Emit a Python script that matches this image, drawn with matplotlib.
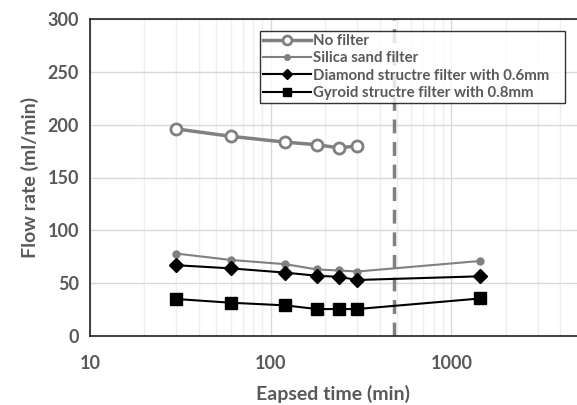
import matplotlib
matplotlib.use("Agg")
import matplotlib.pyplot as plt
from matplotlib.ticker import LogLocator, NullFormatter, FixedLocator

plt.rcParams['font.family'] = ['Lato', 'DejaVu Sans']

# elapsed time (min)
time = [30, 60, 120, 180, 240, 300, 1440]
no_filter = [196, 189, 183.5, 181, 178, 180]
silica = [78, 72, 68, 63, 62, 61, 71]
diamond = [67, 64, 60, 57, 56, 53, 56.5]
gyroid = [35, 31.5, 29, 25.5, 25.5, 25.5, 35.5]
cutoff = 480
labels = ['No filter', 'Silica sand filter',
          'Diamond structre filter with 0.6mm',
          'Gyroid structre filter with 0.8mm']

grey = '#808080'
text_col = '#595959'

fig = plt.figure(figsize=(5.77, 4.05), dpi=100)
ax = fig.add_axes([90 / 577, 1 - 336 / 405, 1 - 90 / 577, 317 / 405])

ax.plot(time[:len(no_filter)], no_filter, '-o', color=grey, lw=2.5,
        ms=8, mfc='white', mew=2, label=labels[0], zorder=3)
ax.plot(time, silica, '-o', color=grey, lw=1.5, ms=5, label=labels[1], zorder=3)
ax.plot(time, diamond, '-D', color='black', lw=1.5, ms=7, label=labels[2], zorder=3)
ax.plot(time, gyroid, '-s', color='black', lw=1.5, ms=8, label=labels[3], zorder=3)
ax.axvline(cutoff, color=grey, lw=2.5, ls=(0, (4, 2.5)), zorder=2)

ax.set_xscale('log')
ax.set_xlim(10, 4950)
ax.set_ylim(0, 300)
ax.xaxis.set_major_locator(FixedLocator([10, 100, 1000]))
ax.xaxis.set_minor_locator(LogLocator(base=10, subs=range(2, 10)))
ax.xaxis.set_minor_formatter(NullFormatter())
ax.set_xticklabels(['10', '100', '1000'])
ax.set_yticks(range(0, 301, 50))

ax.grid(True, which='major', color='#d9d9d9', lw=1, zorder=0)
ax.grid(True, which='minor', axis='x', color='#efefef', lw=1, zorder=0)
ax.set_axisbelow(True)

ax.spines['right'].set_visible(False)
for s in ['top', 'left', 'bottom']:
    ax.spines[s].set_color('#222222')
    ax.spines[s].set_linewidth(1.2)
ax.tick_params(which='both', length=0, pad=14, labelsize=13, labelcolor=text_col)
for t in ax.get_xticklabels() + ax.get_yticklabels():
    t.set_fontweight('bold')
ax.tick_params(axis='y', pad=8)

ax.set_xlabel('Eapsed time (min)', fontsize=14, fontweight='bold', color=text_col, labelpad=9)
ax.set_ylabel('Flow rate (ml/min)', fontsize=14, fontweight='bold', color=text_col, labelpad=6)

leg = ax.legend(loc='upper left', bbox_to_anchor=(170 / 487, 0.5, 305 / 487, 1 - 12 / 317 - 0.5),
                mode='expand', frameon=True, fancybox=False, handlelength=3.2,
                handletextpad=0.15, labelspacing=0.22, borderpad=0.2, markerscale=0.8,
                borderaxespad=0, prop={'weight': 'bold', 'size': 10.8})
leg.get_frame().set_edgecolor('black')
leg.get_frame().set_linewidth(1)
for t in leg.get_texts():
    t.set_color(text_col)

fig.savefig('out.png', dpi=100)
